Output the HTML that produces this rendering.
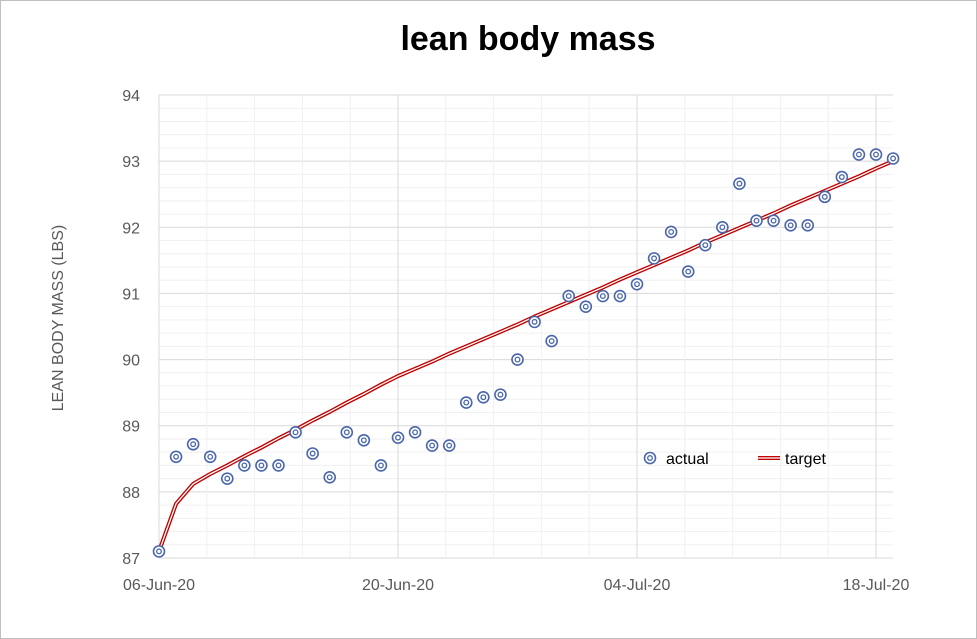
<!DOCTYPE html>
<html><head><meta charset="utf-8"><style>
body{margin:0;background:#fff;font-family:"Liberation Sans",sans-serif}
svg{display:block}
</style></head><body>
<svg id="c" width="977" height="639">
<rect x="0.5" y="0.5" width="976" height="638" fill="#fff" stroke="#bfbfbf"/>
<text x="528" y="50" text-anchor="middle" font-size="34" font-weight="bold" fill="#000">lean body mass</text>
<text transform="translate(63,318) rotate(-90)" text-anchor="middle" font-size="16" fill="#595959">LEAN BODY MASS (LBS)</text>
<g id="grid"></g><g id="ticks"></g><g id="series"></g>
<g>
<g>
<circle cx="650" cy="458" r="5.5" fill="none" stroke="#4a66ac" stroke-width="1.6"/><circle cx="650" cy="458" r="2.3" fill="none" stroke="#4a66ac" stroke-width="1.3"/>
<text x="666" y="464" font-size="16" fill="#000">actual</text></g>
<g>
<line x1="758" y1="458" x2="780" y2="458" stroke="#c00000" stroke-width="4"/><line x1="758" y1="458" x2="780" y2="458" stroke="#fff" stroke-width="1.3"/>
<text x="785" y="464" font-size="16" fill="#000">target</text></g>
</g>
</svg>
<script>
const actualValues=[87.1,88.53,88.72,88.53,88.2,88.4,88.4,88.4,88.9,88.58,88.22,88.9,88.78,88.4,88.82,88.9,88.7,88.7,89.35,89.43,89.47,90.0,90.57,90.28,90.96,90.8,90.96,90.96,91.14,91.53,91.93,91.33,91.73,92.0,92.66,92.1,92.1,92.03,92.03,92.46,92.76,93.1,93.1,93.04];
const targetValues=[87.1,87.82,88.12,88.27,88.40,88.54,88.67,88.81,88.94,89.08,89.21,89.35,89.48,89.62,89.75,89.86,89.97,90.09,90.20,90.31,90.42,90.53,90.65,90.76,90.87,90.98,91.09,91.21,91.32,91.43,91.54,91.65,91.77,91.88,91.99,92.10,92.21,92.33,92.44,92.55,92.66,92.77,92.89,93.00];
const yTicks=[87,88,89,90,91,92,93,94];
const xTickDays=[0,14,28,42];
const xTickLabels=["06-Jun-20","20-Jun-20","04-Jul-20","18-Jul-20"];
const L=159,R=893,T=95,B=558,dayW=(876-159)/42;
const x=d=>L+d*dayW, y=v=>B-(v-87)*(B-T)/7;
const NS="http://www.w3.org/2000/svg";
function mk(p,t,a){const e=document.createElementNS(NS,t);for(const k in a)e.setAttribute(k,a[k]);p.appendChild(e);return e;}
const grid=document.getElementById('grid'),ticks=document.getElementById('ticks'),ser=document.getElementById('series');
for(let v=87;v<=94.001;v+=0.2){const major=Math.abs(v-Math.round(v))<1e-6;
 const l=mk(grid,'line',{x1:L,x2:R,y1:y(v),y2:y(v),stroke:major?'#d9d9d9':'#f0f0f0','stroke-width':1});
 
 }
for(let d=0;d<=43;d+=2.8){const major=Math.abs(d/14-Math.round(d/14))<1e-6;
 const l=mk(grid,'line',{x1:x(d),x2:x(d),y1:T,y2:B,stroke:major?'#d9d9d9':'#f0f0f0','stroke-width':1});
 
 }
yTicks.forEach(v=>{const t=mk(ticks,'text',{x:140,y:y(v)+6,'text-anchor':'end','font-size':16,fill:'#595959'});t.textContent=v;
 
 });
xTickDays.forEach((d,i)=>{const t=mk(ticks,'text',{x:x(d),y:590,'text-anchor':'middle','font-size':16,fill:'#595959'});t.textContent=xTickLabels[i];
 
 });
const pts=targetValues.map((v,i)=>x(i)+','+y(v)).join(' ');
const tl=mk(ser,'polyline',{points:pts,fill:'none',stroke:'#c00000','stroke-width':4});


mk(ser,'polyline',{points:pts,fill:'none',stroke:'#fff','stroke-width':1.3});
actualValues.forEach((v,i)=>{const g=mk(ser,'g',{});
 
 
 mk(g,'circle',{cx:x(i),cy:y(v),r:5.5,fill:'#fff',stroke:'#4a66ac','stroke-width':1.6});
 mk(g,'circle',{cx:x(i),cy:y(v),r:2.3,fill:'none',stroke:'#4a66ac','stroke-width':1.3});});
</script>
</body></html>
